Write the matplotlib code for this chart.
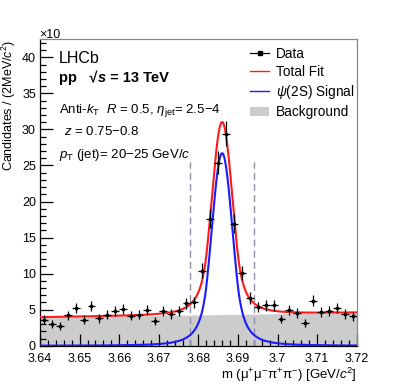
import numpy as np
import matplotlib
matplotlib.use("Agg")
import matplotlib.pyplot as plt
from matplotlib.lines import Line2D
from matplotlib.patches import Patch
from matplotlib.ticker import MultipleLocator, FixedLocator, FixedFormatter

plt.rcParams["font.family"] = ["Liberation Sans", "DejaVu Sans"]
plt.rcParams["mathtext.fontset"] = "custom"
plt.rcParams["mathtext.rm"] = "Liberation Sans"
plt.rcParams["mathtext.it"] = "Liberation Sans:italic"
plt.rcParams["mathtext.bf"] = "Liberation Sans:bold"

# data (candidates / 10, per 2 MeV bin)
bin_centres = np.arange(3.641, 3.7205, 0.002)
counts = [3.6, 3.0, 2.75, 4.2, 5.2, 3.6, 5.5, 3.8, 4.3, 4.75,
          5.1, 4.15, 4.3, 5.0, 3.45, 4.85, 4.4, 4.75, 5.9, 6.0,
          10.4, 17.6, 25.4, 29.4, 16.9, 10.1, 6.6, 5.35, 5.6, 5.6,
          3.7, 4.95, 4.5, 3.1, 6.25, 4.7, 4.85, 5.2, 4.4, 4.1]
counts = np.array(counts)
errors = np.sqrt(counts * 10) / 10

# fit results
sig_mean, sig_sigma, sig_peak = 3.686, 0.0026, 26.7
cb_alpha, cb_n = 1.5, 3.0
bkg_at_low, bkg_slope = 3.95, 8.1
window = [3.678, 3.694]

x_ticks = [3.64, 3.65, 3.66, 3.67, 3.68, 3.69, 3.70, 3.71, 3.72]
x_labels = ["3.64", "3.65", "3.66", "3.67", "3.68", "3.69", "3.7", "3.71", "3.72"]


def signal(m):
    t = np.abs(m - sig_mean) / sig_sigma
    core = np.exp(-0.5 * t ** 2)
    a = (cb_n / cb_alpha) ** cb_n * np.exp(-0.5 * cb_alpha ** 2)
    b = cb_n / cb_alpha - cb_alpha
    tail = a / np.power(np.maximum(b + t, 1e-9), cb_n)
    return sig_peak * np.where(t < cb_alpha, core, tail)


def background(m):
    return bkg_at_low + bkg_slope * (m - 3.64)


m = np.linspace(3.64, 3.72, 1601)

fig = plt.figure(figsize=(3.97, 3.84), dpi=100)
ax = fig.add_axes([0.1008, 0.0997, 0.7977, 0.798])

ax.fill_between(m, 0, background(m), color="#cccccc", lw=0, zorder=1)
ax.plot(m, signal(m), color="#1a1aff", lw=1.5, zorder=3)
ax.plot(m, signal(m) + background(m), color="#ff1a1a", lw=1.5, zorder=4)
for w in window:
    ax.plot([w, w], [0, 25.5], color="#9090a8", lw=1.0, ls=(0, (5, 3)), zorder=2)
ax.errorbar(bin_centres, counts, yerr=errors, xerr=0.001, fmt="s", ms=1.5,
            color="black", ecolor="black", elinewidth=0.9, capsize=0, zorder=5)

ax.set_xlim(3.64, 3.72)
ax.set_ylim(0, 42.5)
ax.xaxis.set_major_locator(FixedLocator(x_ticks))
ax.xaxis.set_major_formatter(FixedFormatter(x_labels))
ax.xaxis.set_minor_locator(MultipleLocator(0.002))
ax.yaxis.set_major_locator(MultipleLocator(5))
ax.yaxis.set_minor_locator(MultipleLocator(1))
ax.tick_params(which="both", direction="in", top=False, right=False,
               labelsize=9, width=0.9)
ax.tick_params(axis="x", pad=5)
ax.tick_params(axis="y", pad=3)
ax.tick_params(which="major", length=9)
ax.tick_params(which="minor", length=4.5)
for s in ["top", "right"]:
    ax.spines[s].set_color("#888888")
for s in ax.spines.values():
    s.set_linewidth(0.9)

ax.set_xlabel(r"m (μ$^{+}$μ$^{-}$π$^{+}$π$^{-}$) [GeV/$c^{2}$]", fontsize=9.5,
              loc="right", labelpad=1)
ax.set_ylabel(r"Candidates / (2MeV/$c^{2}$)", fontsize=9, loc="top")
ax.yaxis.set_label_coords(-0.068, 1.0)
fig.text(39 / 397, 1 - 38 / 384, "×10", fontsize=9, va="baseline")

tx = 0.06
ax.text(tx, 0.923, "LHCb", transform=ax.transAxes, fontsize=11.5)
t1 = ax.text(tx, 0.86, "pp   √", transform=ax.transAxes, fontsize=10.5,
             fontweight="bold")
t2 = ax.annotate("s", xy=(1, 0), xycoords=t1, va="bottom", fontsize=10.5,
                 fontweight="bold", style="italic")
ax.annotate(" = 13 TeV", xy=(1, 0), xycoords=t2, va="bottom", fontsize=10.5,
            fontweight="bold")
ax.text(tx, 0.76, r"Anti-$k_{\rm T}$  $R$ = 0.5, $\eta_{\rm jet}$= 2.5$-$4",
        transform=ax.transAxes, fontsize=9.5)
ax.text(tx + 0.015, 0.687, r"$z$ = 0.75$-$0.8", transform=ax.transAxes, fontsize=9.5)
ax.text(tx, 0.613, r"$p_{\rm T}$ (jet)= 20$-$25 GeV/$c$", transform=ax.transAxes,
        fontsize=9.5)

handles = [
    Line2D([], [], color="black", marker="s", ms=2.5, lw=0.9),
    Line2D([], [], color="#ff1a1a", lw=1.0),
    Line2D([], [], color="#1a1aff", lw=1.0),
    Patch(facecolor="#cccccc", edgecolor="none"),
]
labels = ["Data", "Total Fit", r"$\psi$(2S) Signal", "Background"]
fig.legend(handles, labels, loc="upper left", bbox_to_anchor=(250 / 397, 1 - 47 / 384),
           frameon=False, fontsize=9.8, handlelength=1.4, handletextpad=0.5,
           labelspacing=0.3, borderpad=0, borderaxespad=0)

fig.savefig("out.png", dpi=100)
